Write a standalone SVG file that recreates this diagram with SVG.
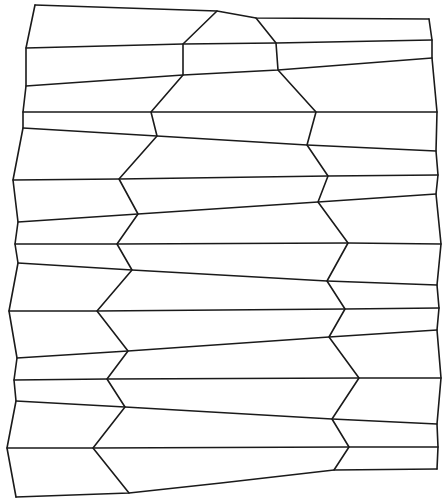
<svg xmlns="http://www.w3.org/2000/svg" width="442" height="499" viewBox="0 0 442 499">
<style>
.l{fill:none;stroke:#1a1a1a;stroke-width:1.6;stroke-linejoin:round;stroke-linecap:round}
</style>
<rect width="442" height="499" fill="#fff"/>
<g id="outline" class="l">
<polyline points="35,5 217,11 256,18 429,19"/>
<polyline points="35,5 26,48 26,86 23,112 23,128 13,180 18,222 15,244 18,263 9,311 17,358 14,380 16,401 7,448 16,497"/>
<polyline points="429,19 432,40 432,58 437,112 436,151 438,175 436,194 441,244 437,285 439,308 437,330 441,378 437,424 438,447 437,469"/>
<polyline points="16,497 129,493 221,483 334,470 437,469"/>
</g>
<g id="zigzags" class="l">
<polyline points="217,11 183,44 183,75 151,112 157,136 119,179 138,214 117,244 132,270 97,311 128,351 107,379 125,407 93,448 129,493"/>
<polyline points="256,18 276,43 278,70 316,112 307,145 328,176 318,202 348,243 327,281 345,309 329,337 359,378 332,419 349,447 334,470"/>
</g>
<g id="bands" class="l">
<polyline points="26,48 183,44 276,43 432,40"/>
<polyline points="26,86 183,75 278,70 432,58"/>
<polyline points="23,112 151,112 316,112 437,112"/>
<polyline points="23,128 157,136 307,145 436,151"/>
<polyline points="13,180 119,179 328,176 438,175"/>
<polyline points="18,222 138,214 318,202 436,194"/>
<polyline points="15,244 117,244 348,243 441,244"/>
<polyline points="18,263 132,270 327,281 437,285"/>
<polyline points="9,311 97,311 345,309 439,308"/>
<polyline points="17,358 128,351 329,337 437,330"/>
<polyline points="14,380 107,379 359,378 441,378"/>
<polyline points="16,401 125,407 332,419 437,424"/>
<polyline points="7,448 93,448 349,447 438,447"/>
</g>
</svg>
